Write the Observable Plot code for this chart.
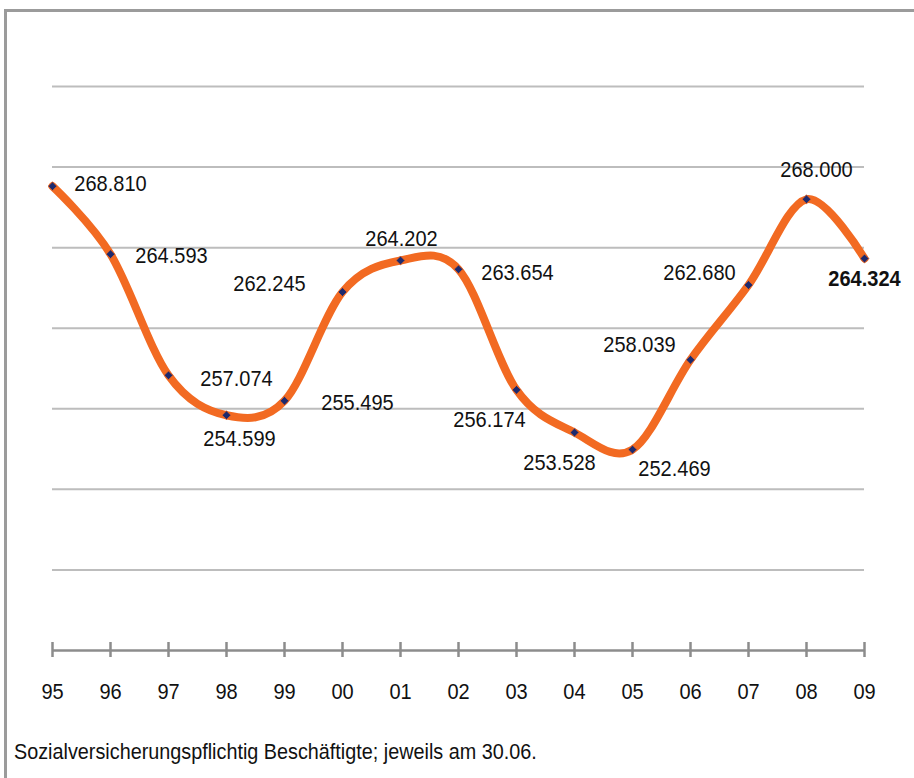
<!DOCTYPE html>
<html>
<head>
<meta charset="utf-8">
<script src="https://cdn.jsdelivr.net/npm/d3@7"></script>
<script src="https://cdn.jsdelivr.net/npm/@observablehq/plot@0.6"></script>
<style>
  html, body { margin: 0; padding: 0; background: #fff; overflow: hidden; }
  body { width: 914px; height: 778px; position: relative; font-family: "Liberation Sans", Arial, sans-serif; }
  #frame { position: absolute; left: 4px; top: 9px; width: 930px; height: 800px; border-left: 3px solid #9b9b9b; border-top: 3px solid #9b9b9b; box-sizing: border-box; }
  #chart { position: absolute; left: 0; top: 0; }
  #caption { position: absolute; left: 14px; top: 737px; line-height: 30px; font-size: 22.5px; color: #111; white-space: nowrap; transform: scaleX(0.88); transform-origin: 0 50%; }
</style>
</head>
<body>
<div id="frame"></div>
<div id="chart"></div>
<div id="caption">Sozialversicherungspflichtig Beschäftigte; jeweils am 30.06.</div>
<script>
const years = ["95","96","97","98","99","00","01","02","03","04","05","06","07","08","09"];
const values = [268.810, 264.593, 257.074, 254.599, 255.495, 262.245, 264.202, 263.654, 256.174, 253.528, 252.469, 258.039, 262.680, 268.000, 264.324];
const labels = ["268.810","264.593","257.074","254.599","255.495","262.245","264.202","263.654","256.174","253.528","252.469","258.039","262.680","268.000","264.324"];
const gridValues = [245, 250, 255, 260, 265, 270, 275];

// label offsets (pixels) relative to each point
const labelOffsets = [[58,-2],[61,2],[68,3],[13,24],[73,2],[-73,-8],[1,-22],[59,3],[-27,30],[-15,30],[42,19],[-51,-15],[-49,-12],[10,-30],[0,20]];

const data = years.map((y, i) => ({year: y, value: values[i], label: labels[i]}));
const font = "Liberation Sans, Arial, sans-serif";

const labelMarks = data.map((d, i) => Plot.text([d], {
  x: "year", y: "value", text: "label",
  dx: labelOffsets[i][0], dy: labelOffsets[i][1],
  fontSize: 20, fill: "#111",
  fontWeight: i === data.length - 1 ? "bold" : "normal",
  textAnchor: "middle"
}));

const chart = Plot.plot({
  width: 914,
  height: 730,
  marginLeft: 52,
  marginRight: 50,
  marginTop: 86,
  marginBottom: 80,
  style: {fontFamily: font, background: "transparent", overflow: "visible"},
  x: {type: "point", domain: years, padding: 0, axis: null},
  y: {domain: [240, 275], axis: null},
  marks: [
    Plot.ruleY(gridValues, {stroke: "#bdbdbd", strokeWidth: 2}),
    Plot.ruleY([240], {stroke: "#8c8c8c", strokeWidth: 2.5}),
    Plot.ruleX(years, {x: d => d, y1: 240, y2: 240, insetTop: -8, insetBottom: -7, stroke: "#8c8c8c", strokeWidth: 2.5}),
    Plot.axisX({tickSize: 0, tickPadding: 33, fontSize: 20, color: "#111", label: null}),
    Plot.line(data, {x: "year", y: "value", curve: "cardinal", tension: 0, stroke: "#F26A22", strokeWidth: 8, strokeLinecap: "round", strokeLinejoin: "round"}),
    Plot.dot(data, {x: "year", y: "value", symbol: "diamond2", r: 4, fill: "#1d2a6e", stroke: "#F26A22", strokeWidth: 0.8}),
    ...labelMarks
  ]
});
document.getElementById("chart").appendChild(chart);

// Slightly condense glyphs (taller text at the same width), as in the reference
chart.querySelectorAll("text").forEach(t => {
  const w = t.getComputedTextLength();
  if (w > 0) {
    t.setAttribute("font-size", "22.5");
    t.style.fontSize = "22.5px";
    t.setAttribute("textLength", w.toFixed(2));
    t.setAttribute("lengthAdjust", "spacingAndGlyphs");
  }
});
</script>
</body>
</html>
